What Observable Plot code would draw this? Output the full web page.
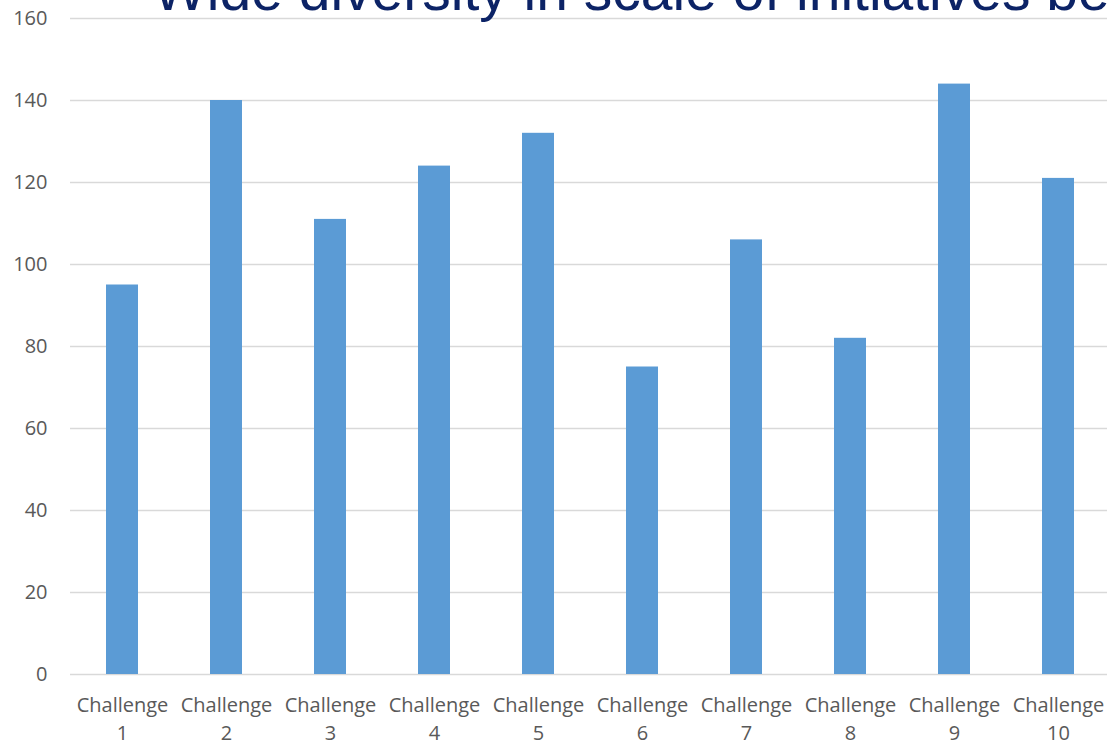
<!DOCTYPE html>
<html>
<head>
<meta charset="utf-8">
<script src="https://cdn.jsdelivr.net/npm/d3@7"></script>
<script src="https://cdn.jsdelivr.net/npm/@observablehq/plot@0.6"></script>
<style>
  html, body { margin: 0; padding: 0; background: #fff; overflow: hidden; }
  #wrap { position: relative; width: 1107px; height: 743px; }
  #title { position: absolute; left: 0; top: 0; pointer-events: none; }
</style>
</head>
<body>
<div id="wrap">
  <div id="chart"></div>
  <svg id="title" width="1107" height="743">
    <text x="153" y="10" font-family="Liberation Sans, Arial, sans-serif" font-size="57" fill="#0c2366">Wide diversity in scale of initiatives between challenges</text>
  </svg>
</div>
<script>
const categories = ["Challenge 1","Challenge 2","Challenge 3","Challenge 4","Challenge 5","Challenge 6","Challenge 7","Challenge 8","Challenge 9","Challenge 10"];
const values = [95, 140, 111, 124, 132, 75, 106, 82, 144, 121];
const yTicks = [0, 20, 40, 60, 80, 100, 120, 140, 160];

const data = categories.map((c, i) => ({category: c, value: values[i]}));

const chart = Plot.plot({
  width: 1107,
  height: 743,
  marginTop: 18,
  marginBottom: 69,
  marginLeft: 70,
  marginRight: 0,
  style: {fontFamily: "'Open Sans', sans-serif", background: "#fff", overflow: "visible"},
  x: {domain: categories, range: [70, 1110], paddingInner: 0.69, paddingOuter: 0.345, align: 0.5},
  y: {domain: [0, 160], ticks: yTicks},
  marks: [
    Plot.gridY(yTicks, {stroke: "#d9d9d9", strokeOpacity: 1, strokeWidth: 1.5}),
    Plot.axisY(yTicks, {tickSize: 0, tickPadding: 23, fontSize: 20, fill: "#595959", label: null}),
    Plot.axisX({
      tickSize: 0, tickPadding: 17, fontSize: 20, fill: "#595959", label: null, lineHeight: 1.42,
      tickFormat: d => d.replace(" ", "\n")
    }),
    Plot.barY(data, {x: "category", y: "value", fill: "#5b9bd5"})
  ]
});
document.getElementById("chart").appendChild(chart);
</script>
</body>
</html>
